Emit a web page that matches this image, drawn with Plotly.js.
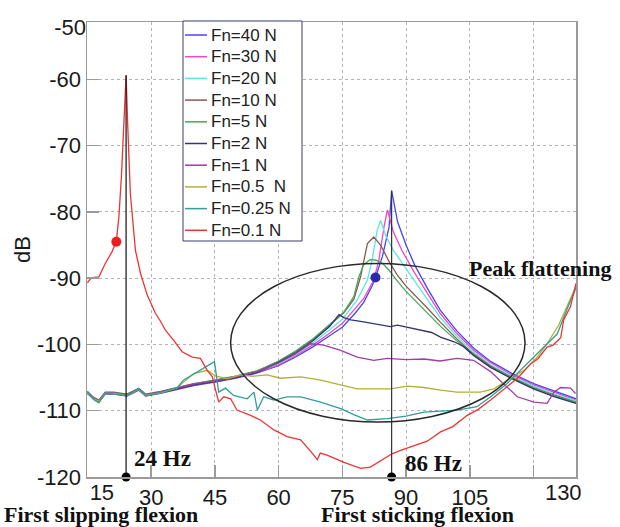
<!DOCTYPE html>
<html>
<head>
<meta charset="utf-8">
<script src="https://cdn.plot.ly/plotly-3.0.1.min.js"></script>
<style>html,body{margin:0;padding:0;background:#fff;}#chart{width:620px;height:527px;}</style>
</head>
<body>
<div id="chart"></div>
<script>
// ---- Data (frequency in Hz, level in dB) ----
const seriesNames = ["Fn=40 N","Fn=30 N","Fn=20 N","Fn=10 N","Fn=5 N","Fn=2 N","Fn=1 N","Fn=0.5  N","Fn=0.25 N","Fn=0.1 N"];

const f40 = [15,16.5,17.7,19.2,21.2,24.3,27.1,28.7,32.2,36,40,45,50,55,60,64,68,72,75,78,80,82,82.8,84.4,86,86.6,88,90,92,95,98,102,106,110,115,120,125,130];
const db40 = [-107.4,-108.3,-108.7,-107.5,-107.5,-107.8,-106.9,-107.8,-107.4,-106.8,-106.2,-105.7,-105.1,-104.3,-103.2,-101.9,-100.4,-98.7,-97.4,-95.3,-93.7,-91.2,-89.9,-86.8,-82.3,-76.8,-81.5,-85,-88,-91.5,-94.8,-98,-100.6,-102.6,-104.4,-105.9,-107.1,-108.2];

const f30 = [15,16.5,17.7,19.2,21.2,24.3,27.1,28.7,32.2,36,40,45,50,55,60,64,68,72,75,78,80,82.4,83.6,84.8,85.6,87,89,92,95,98,102,106,110,115,120,125,130];
const db30 = [-107.3,-108.2,-108.6,-107.4,-107.4,-107.7,-106.8,-107.7,-107.3,-106.7,-106.1,-105.6,-105,-104.2,-103.1,-101.7,-100.1,-98.3,-96.8,-94.6,-93.1,-90.3,-87.3,-82.3,-79.7,-83,-85.8,-89.2,-92.3,-95.3,-98.4,-100.9,-102.8,-104.6,-106.1,-107.3,-108.4];

const f20 = [15,16.5,17.7,19.2,21.2,24.3,27.1,28.7,32.2,36,40,45,50,55,60,64,68,72,75,78.5,80.9,82,83.2,84,84.6,85.2,87,90,92,95,98,102,106,110,115,120,125,130];
const db20 = [-107.2,-108.1,-108.5,-107.3,-107.3,-107.6,-106.7,-107.6,-107.2,-106.6,-106,-105.5,-104.9,-104.1,-102.9,-101.5,-99.8,-97.8,-96.2,-93.3,-90.3,-87.3,-82.8,-81.3,-82.6,-83.6,-85.8,-88.5,-90.4,-93.2,-95.9,-98.8,-101.2,-103.1,-104.8,-106.3,-107.5,-108.5];

const f10 = [15,16.5,17.7,19.2,21.2,24.3,27.1,28.7,32.2,36,40,45,50,55,60,64,68,72,75.4,77.7,79.3,80.1,80.9,82.4,84,86,88,90,92,95,98,102,106,110,115,120,125,130];
const db10 = [-107.1,-108,-108.4,-107.2,-107.2,-107.5,-106.6,-107.5,-107.1,-106.5,-105.9,-105.4,-104.8,-104,-102.6,-101.1,-99.3,-97.1,-95.2,-93.2,-89.8,-87.3,-84.8,-83.8,-85,-87.5,-89.6,-91.2,-92.5,-94.5,-96.6,-99.2,-101.5,-103.3,-105,-106.5,-107.7,-108.7];

const f5 = [15,16.5,17.7,19.2,21.2,24.3,27.1,28.7,32.2,36,40,45,50,55,60,64,68,72,75.4,77.7,78.9,80,81.5,83,84.5,86,88,90,92,95,98,102,106,110,115,120,125,130];
const db5 = [-107.2,-108.1,-108.5,-107.3,-107.3,-107.6,-106.7,-107.6,-107.2,-106.6,-106,-105.4,-104.8,-104,-102.5,-101,-99.2,-97,-95.1,-92.8,-89.8,-88,-87.2,-87.3,-87.8,-88.8,-90.5,-92,-93.3,-95.2,-97.2,-99.5,-101.7,-103.5,-105.1,-106.6,-107.8,-108.8];

const f2 = [15,16.5,17.7,19.2,21.2,24.3,27.1,28.7,32.2,36,40,45,50,55,60,64,68,72,74.2,75.5,77,80,83,86.3,88,90.3,92,94.2,96,98.1,101.3,103.5,106,110,115,120,125,130];
const db2 = [-107.3,-108.2,-108.6,-107.4,-107.4,-107.7,-106.8,-107.7,-107.3,-106.7,-106.1,-105.6,-105,-104.2,-102.7,-101.3,-99.5,-97.3,-95.5,-96,-96.3,-96.6,-96.9,-97.3,-97.1,-97.4,-97.6,-97.9,-98.2,-98.9,-99.6,-100.3,-101.7,-103.5,-105.2,-106.7,-107.9,-108.9];

const f1 = [15,16.5,17.7,19.2,21.2,24.3,27.1,28.7,32.2,36,40,45,50,55,60,64,67.5,70.6,74.6,78.5,82.4,85.6,90,94.2,98,102,105.9,109.9,113,116.2,120.1,123.2,124.8,126.4,128.7,129.9];
const db1 = [-107.2,-108.1,-108.5,-107.3,-107.3,-107.6,-106.7,-107.6,-107.2,-106.6,-106,-105.5,-104.9,-104.1,-102.8,-101.4,-99.9,-100.1,-100.9,-101.9,-102.4,-102.1,-102.3,-102.2,-102.5,-102.1,-102.4,-104.1,-105.9,-107.9,-108.7,-108.9,-107.2,-106.5,-106.6,-107.4];

const f05 = [15,16.5,17.7,19.2,21.2,24.3,27.1,28.7,32.2,36,38,40,43.2,45,47.9,51,54,57.3,60.4,65.2,69.9,75.4,78.5,82.4,86.3,90.3,94.2,98.1,102,107.5,110.7,113.8,117.8,120.9,123.2,126,128,130];
const db05 = [-107.3,-108.2,-108.6,-107.4,-107.4,-107.7,-106.8,-107.7,-107.3,-106.6,-105.5,-104.4,-103.9,-104.7,-105.2,-104.6,-104.8,-104.6,-105.1,-104.9,-105.4,-106.2,-106.7,-106.7,-106.7,-106.3,-106.5,-106.9,-107.2,-107.2,-106.7,-105.4,-103.9,-101.9,-99.9,-97,-94,-91.2];

const f025 = [15,16.5,17.7,19.2,21.2,24.3,27.1,28.7,32.2,36,37.6,41.6,44.4,44.9,45.9,47.5,49.4,52.6,54.2,55,56.5,58.9,62,65.2,69.9,74.6,77.7,80.9,85.6,90,94.2,98,102,106.7,109.9,113.8,119.4,122.4,125.6,128,130];
const db025 = [-107.1,-108.3,-108.8,-107.3,-107.5,-107.7,-106.7,-107.8,-107.2,-106.6,-105.4,-103.9,-102.9,-102.6,-107.2,-106.6,-107.7,-108.2,-107.2,-109.9,-107.9,-108.4,-107.9,-107.9,-108.7,-109.7,-110.6,-111.4,-111.2,-110.8,-110.2,-110.1,-109.9,-109.4,-107.9,-105.9,-102.4,-100.4,-98.4,-94.5,-91.5];

const f01 = [15,15.7,16.5,17.7,19.2,20.8,21.8,22.4,23,23.5,24.1,24.5,25.1,26.3,27.5,29.1,31,32.2,33.4,35.3,37.3,39.7,41.6,43.2,44.4,45.1,45.9,47.1,48.7,50.2,53.4,55.7,58.9,62,65.2,68.3,69.1,69.8,71.4,75.4,79.3,81.6,84,86.7,88.7,92.6,95,98.1,101,104.4,107,109.9,113,116.2,119.4,121,123.2,124.6,126.4,127.1,128.7,130];
const db01 = [-90.7,-90.1,-89.9,-89.8,-87.8,-86,-84.5,-80.8,-74.7,-67.2,-59.4,-67.2,-77.2,-85.8,-89.3,-92.6,-95.3,-96.5,-97.9,-99.4,-101.1,-101.9,-102.1,-103.9,-104.9,-106.7,-108.7,-107.9,-108.2,-109.9,-110.7,-111.4,-112.9,-113.9,-114.4,-116.7,-117.4,-116.4,-116.7,-117.8,-118.7,-118.5,-117.5,-116.5,-116,-115.2,-114.6,-113.2,-112.4,-110.7,-109.8,-108.4,-106.8,-105.1,-102.9,-102.2,-100.4,-100.1,-99,-96.3,-94.3,-90.8];

const seriesFreqs = [f40,f30,f20,f10,f5,f2,f1,f05,f025,f01];
const seriesDb = [db40,db30,db20,db10,db5,db2,db1,db05,db025,db01];
const seriesColors = ["#4646f0","#f048c8","#5ce8e0","#8a5a4e","#48a858","#34346e","#a03ca8","#b2b034","#2f9e9c","#ec3434"];

// highlighted points (Hz, dB)
const redDotFreq = [21.8], redDotDb = [-84.5];
const blueDotFreq = [82.8], blueDotDb = [-89.9];
// marked resonance frequencies
const markFreqs = [24.1, 86.6];
const markLabels = ["24 Hz", "86 Hz"];

// axis tick labels
const xTickVals = [30,45,60,75,90,105,120];
const xTickText = ["30","45","60","75","90","105",""];
const xEdgeTickVals = [18.4,127];
const xEdgeTickText = ["15","130"];
const yTickVals = [-120,-110,-100,-90,-80,-70,-60];
const yTickText = ["-120","-110","-100","-90","-80","-70","-60"];
const yEdgeTickVals = [-52.1];
const yEdgeTickText = ["-50"];

const xRange = [14.9, 130];
const yRange = [-120, -51.36];

// ---- Traces ----
const traces = [];
seriesNames.forEach((n, i) => {
  traces.push({x: seriesFreqs[i], y: seriesDb[i], type: 'scatter', mode: 'lines', name: n,
    line: {color: seriesColors[i], width: 1.3}});
});
const peakRed = Math.max(...db01);
const peakBlue = Math.max(...db40);
const floorDb = yRange[0];
traces.push({x: [markFreqs[0], markFreqs[0]], y: [floorDb, peakRed], mode: 'lines',
  line: {color: '#111', width: 1.2}, hoverinfo: 'skip'});
traces.push({x: [markFreqs[1], markFreqs[1]], y: [floorDb, peakBlue], mode: 'lines',
  line: {color: '#333', width: 1.2}, hoverinfo: 'skip'});
traces.push({x: redDotFreq, y: redDotDb, mode: 'markers', marker: {color: '#ee1c1c', size: 10}});
traces.push({x: blueDotFreq, y: blueDotDb, mode: 'markers', marker: {color: '#2a2ab0', size: 10}});
traces.push({x: markFreqs, y: [floorDb, floorDb], mode: 'markers', cliponaxis: false,
  marker: {color: '#000', size: 9}});
// empty traces so the edge-label axes exist
traces.push({x: [], y: [], xaxis: 'x2', yaxis: 'y'});
traces.push({x: [], y: [], xaxis: 'x', yaxis: 'y2'});

const tickFont = {family: 'Liberation Sans, Arial, sans-serif', size: 22, color: '#1a1a1a'};
const serif = {family: 'Liberation Serif, Times New Roman, serif', size: 23, color: '#111'};
const serifSmall = {family: 'Liberation Serif, Times New Roman, serif', size: 22, color: '#111'};

// ---- Hand-built legend (paper coordinates derived from plot-area pixels) ----
const plotL = 87, plotT = 22, plotW = 489, plotH = 455;
const px2x = p => (p - plotL) / plotW;
const py2y = p => 1 - (p - plotT) / plotH;
const legLeft = 183, legRight = 302, legTop = 21, legBottom = 241;
const legRow0 = 35, legRowStep = 21.7;
const shapes = [
  {type: 'circle', xref: 'x', yref: 'y', x0: 48.7, x1: 118, y0: -111.7, y1: -87.8,
    line: {color: '#2a2a2a', width: 1.5}},
  {type: 'rect', xref: 'paper', yref: 'paper', x0: px2x(legLeft), x1: px2x(legRight),
    y0: py2y(legBottom), y1: py2y(legTop), fillcolor: '#fff', line: {color: '#3c3c66', width: 1}}
];
const annotations = [
  {x: 32.6, y: -117.2, xref: 'x', yref: 'y', text: '<b>' + markLabels[0] + '</b>', showarrow: false, font: serif},
  {x: 96.35, y: -118.0, xref: 'x', yref: 'y', text: '<b>' + markLabels[1] + '</b>', showarrow: false, font: serif},
  {x: 104.4, y: -88.5, xref: 'x', yref: 'y', xanchor: 'left', text: '<b>Peak flattening</b>', showarrow: false,
    font: serifSmall},
  {x: px2x(2), y: 0, xref: 'paper', yref: 'paper', xanchor: 'left', yanchor: 'middle', yshift: -37,
    text: '<b>First slipping flexion</b>', showarrow: false, font: serifSmall},
  {x: px2x(319), y: 0, xref: 'paper', yref: 'paper', xanchor: 'left', yanchor: 'middle', yshift: -37,
    text: '<b>First sticking flexion</b>', showarrow: false, font: serifSmall}
];
seriesNames.forEach((n, i) => {
  const yy = py2y(legRow0 + i * legRowStep);
  shapes.push({type: 'line', xref: 'paper', yref: 'paper', x0: px2x(185), x1: px2x(207), y0: yy, y1: yy,
    line: {color: seriesColors[i], width: 1.5}});
  annotations.push({x: px2x(209), y: yy, xref: 'paper', yref: 'paper', xanchor: 'left', yanchor: 'middle',
    text: n.replace(/ /g, '&nbsp;'), showarrow: false,
    font: {family: 'Liberation Sans, Arial, sans-serif', size: 17, color: '#222'}});
});

const layout = {
  width: 620, height: 527,
  margin: {l: plotL, r: 620 - plotL - plotW, t: plotT, b: 527 - plotT - plotH},
  paper_bgcolor: '#fff', plot_bgcolor: '#fff',
  showlegend: false,
  xaxis: {range: xRange, tickmode: 'array', tickvals: xTickVals, ticktext: xTickText,
    showgrid: true, gridcolor: '#b4b4b4', griddash: 'dot', gridwidth: 1, zeroline: false,
    showline: true, mirror: true, linecolor: '#9a9a9a', linewidth: 1.5,
    ticks: 'inside', ticklen: 12, tickcolor: '#9a9a9a', tickwidth: 1.5, tickfont: tickFont},
  xaxis2: {range: xRange, overlaying: 'x', anchor: 'y', side: 'bottom', tickmode: 'array',
    tickvals: xEdgeTickVals, ticktext: xEdgeTickText, showgrid: false, zeroline: false, showline: false,
    ticks: '', tickfont: tickFont},
  yaxis: {range: yRange, tickmode: 'array', tickvals: yTickVals, ticktext: yTickText,
    showgrid: true, gridcolor: '#b4b4b4', griddash: 'dot', gridwidth: 1, zeroline: false,
    showline: true, mirror: true, linecolor: '#9a9a9a', linewidth: 1.5,
    ticks: 'inside', ticklen: 12, tickcolor: '#9a9a9a', tickwidth: 1.5, tickfont: tickFont,
    title: {text: 'dB', font: {family: 'Liberation Sans, Arial, sans-serif', size: 22, color: '#1a1a1a'}, standoff: 0}},
  yaxis2: {range: yRange, overlaying: 'y', anchor: 'x', side: 'left', tickmode: 'array',
    tickvals: yEdgeTickVals, ticktext: yEdgeTickText, showgrid: false, zeroline: false, showline: false,
    ticks: '', tickfont: tickFont},
  shapes: shapes,
  annotations: annotations
};

Plotly.newPlot('chart', traces, layout, {displayModeBar: false, staticPlot: true});
</script>
</body>
</html>
